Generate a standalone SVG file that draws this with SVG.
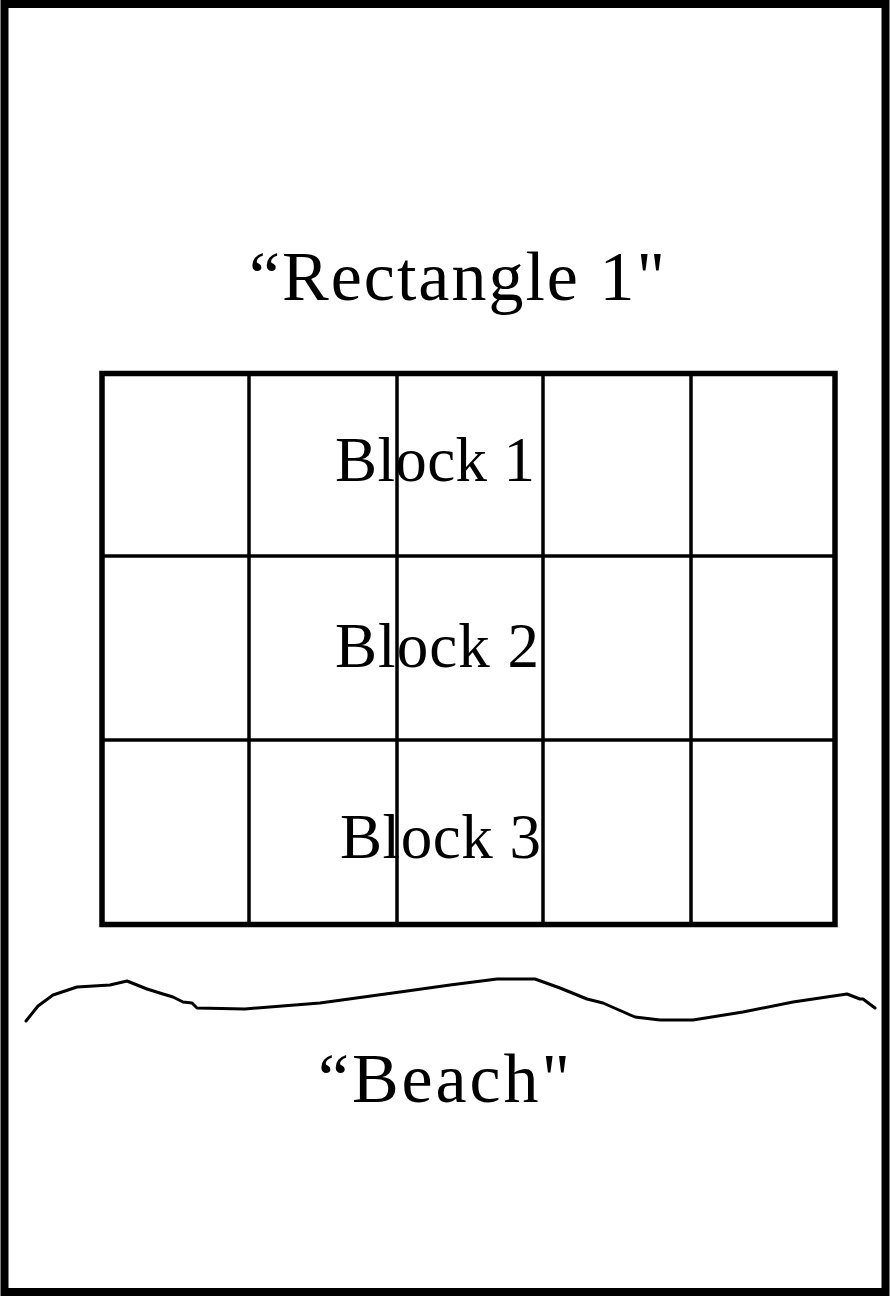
<svg xmlns="http://www.w3.org/2000/svg" width="890" height="1296" viewBox="0 0 890 1296">
  <style>
    .frame { fill: none; stroke: #000; stroke-width: 8; }
    .outer { fill: none; stroke: #000; stroke-width: 5.5; }
    .inner { fill: none; stroke: #000; stroke-width: 3.5; }
    .shore { fill: none; stroke: #000; stroke-width: 3; stroke-linejoin: round; stroke-linecap: round; }
    .label { font-family: "Liberation Serif", "Times New Roman", serif; fill: #000; }
  </style>
  <rect width="890" height="1296" fill="#fff"/>

  <!-- page frame -->
  <g id="frame">
    <rect class="frame" x="4.5" y="4" width="881" height="1288"/>
  </g>

  <!-- title -->
  <g id="title">
    <text class="label" x="249" y="300" font-size="70" textLength="416" lengthAdjust="spacing">“Rectangle 1"</text>
  </g>

  <!-- grid of lots -->
  <g id="grid">
    <rect class="outer" x="102" y="373.5" width="733" height="551"/>
    <line class="inner" x1="249" y1="373" x2="249" y2="924"/>
    <line class="inner" x1="397" y1="373" x2="397" y2="924"/>
    <line class="inner" x1="543" y1="373" x2="543" y2="924"/>
    <line class="inner" x1="691" y1="373" x2="691" y2="924"/>
    <line class="inner" x1="102" y1="556" x2="835" y2="556"/>
    <line class="inner" x1="102" y1="740" x2="835" y2="740"/>
  </g>

  <g id="block1">
    <text class="label" x="335" y="481" font-size="63" textLength="200" lengthAdjust="spacing">Block 1</text>
  </g>
  <g id="block2">
    <text class="label" x="335" y="667" font-size="63" textLength="204" lengthAdjust="spacing">Block 2</text>
  </g>
  <g id="block3">
    <text class="label" x="340" y="858" font-size="63" textLength="201" lengthAdjust="spacing">Block 3</text>
  </g>

  <!-- shoreline -->
  <g id="shoreline">
    <polyline class="shore" points="26,1021 38,1006 53,995 77,987 110,985 127,981 147,989 163,994 173,997 183,1002 192,1003 197,1008 245,1009 320,1003 400,992 450,985 497,979 535,979 560,988 587,999 603,1003 635,1017 660,1020 693,1020 743,1012 793,1002 847,994 860,999 863,999 875,1008"/>
  </g>

  <g id="beach">
    <text class="label" x="318" y="1102" font-size="70" textLength="252" lengthAdjust="spacing">“Beach"</text>
  </g>
</svg>
